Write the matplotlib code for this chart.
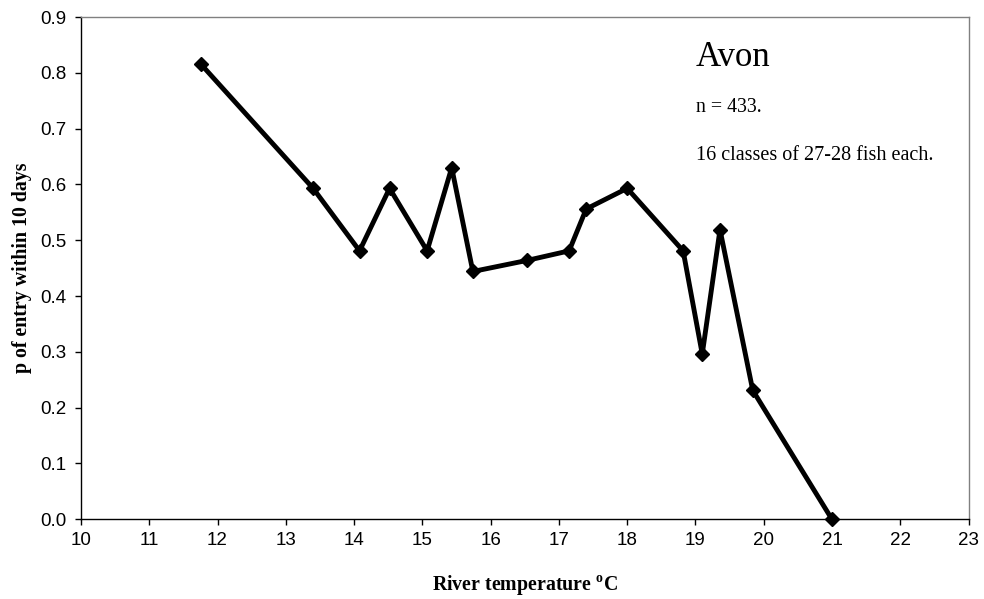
import matplotlib
matplotlib.use("Agg")
import matplotlib.pyplot as plt

temperature = [11.76, 13.40, 14.08, 14.52, 15.07, 15.43, 15.74, 16.54,
               17.15, 17.40, 18.00, 18.82, 19.10, 19.36, 19.84, 21.00]
p_entry = [0.815, 0.593, 0.481, 0.593, 0.481, 0.630, 0.444, 0.464,
           0.481, 0.556, 0.593, 0.481, 0.296, 0.519, 0.231, 0.000]
x_ticks = list(range(10, 24))
y_ticks = [0.0, 0.1, 0.2, 0.3, 0.4, 0.5, 0.6, 0.7, 0.8, 0.9]

W, H = 984, 599
fig = plt.figure(figsize=(W / 100, H / 100), dpi=100)
ax_l, ax_r, ax_t, ax_b = 81, 968.5, 17, 519.3
ax = fig.add_axes([ax_l / W, 1 - ax_b / H, (ax_r - ax_l) / W, (ax_b - ax_t) / H])

ax.plot(temperature, p_entry, color="black", linewidth=3.5, marker="D",
        markersize=7, markerfacecolor="black", markeredgecolor="black",
        clip_on=False, zorder=3)

ax.set_xlim(10, 23)
ax.set_ylim(0, 0.9)
ax.set_xticks(x_ticks)
ax.set_yticks(y_ticks)
ax.set_xticklabels([str(t) for t in x_ticks], fontfamily="Liberation Sans", fontsize=13.5)
ax.set_yticklabels([f"{v:.1f}" for v in y_ticks], fontfamily="Liberation Sans", fontsize=13.5)
ax.tick_params(direction="out", length=4.5, width=1, color="black")
ax.tick_params(axis="x", pad=5)
ax.tick_params(axis="y", pad=6)

for s in ["left", "bottom"]:
    ax.spines[s].set_color("black")
    ax.spines[s].set_linewidth(1)
for s in ["top", "right"]:
    ax.spines[s].set_color("#808080")
    ax.spines[s].set_linewidth(1)

ax.set_xlabel("River temperature $^{\\mathregular{o}}$C", fontfamily="Liberation Serif",
              fontweight="bold", fontsize=14.3)
ax.xaxis.label.set_va("baseline")
ax.xaxis.set_label_coords(0.5, (ax_b - 590) / (ax_b - ax_t))
ax.set_ylabel("p of entry within 10 days", fontfamily="Liberation Serif",
              fontweight="bold", fontsize=14.3)
ax.yaxis.label.set_va("center")
ax.yaxis.set_label_coords((22 - ax_l) / (ax_r - ax_l), 0.5)

def px(x, y):
    return x / W, 1 - y / H

fig.text(*px(696, 66), "Avon", fontfamily="Liberation Serif", fontsize=25,
         ha="left", va="baseline")
fig.text(*px(696, 112), "n = 433.", fontfamily="Liberation Serif", fontsize=14.3,
         ha="left", va="baseline")
fig.text(*px(696, 160), "16 classes of 27-28 fish each.", fontfamily="Liberation Serif",
         fontsize=14.5, ha="left", va="baseline")

fig.savefig("out.png", dpi=100)
